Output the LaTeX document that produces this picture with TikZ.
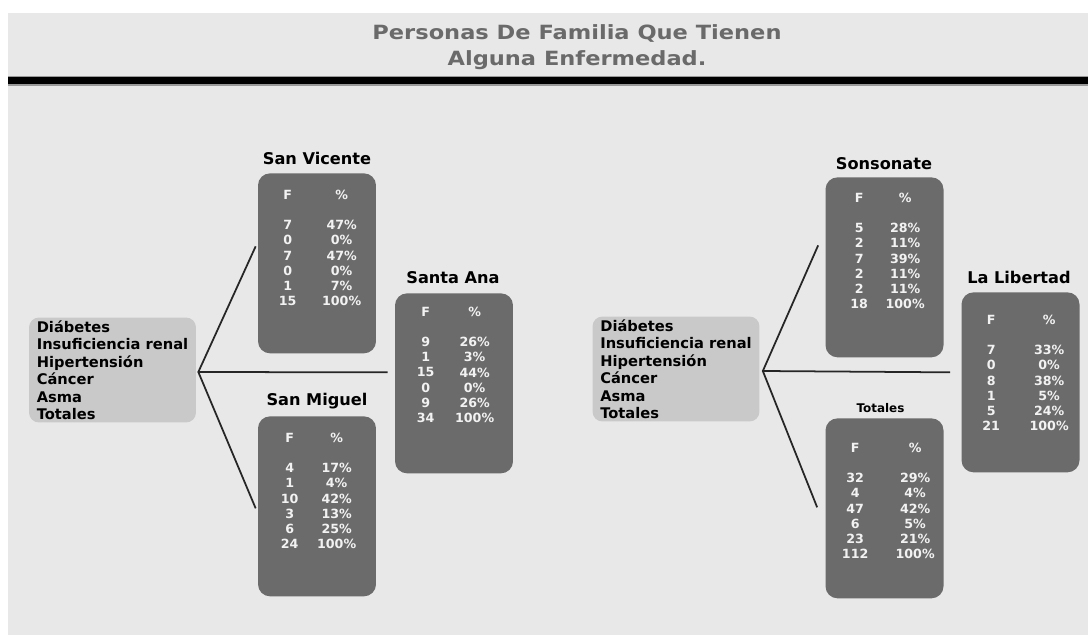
\documentclass[tikz,border=0pt]{standalone}
\usepackage{fontspec}
\setmainfont{DejaVu Sans}
\newfontfamily\titlefont[FakeStretch=1.15]{DejaVu Sans}
\usepackage{tikz}
\usetikzlibrary{positioning,calc}

\definecolor{fondo}{HTML}{E8E8E8}
\definecolor{caja}{HTML}{6B6B6B}
\definecolor{lista}{HTML}{C9C9C9}
\definecolor{gristit}{HTML}{6A6A6A}

% contenido de una caja: nombre, fila F, columna F, columna %, datos
\newcommand{\tabla}[5]{%
  \node[dato] (#1-hf) at ($(#1.north west)+(#3,#2)$) {F};
  \node[dato] (#1-hp) at ($(#1.north west)+(#4,#2)$) {\%};
  \foreach \f/\p [count=\i] in {#5} {
    \node[dato] (#1-f\i) at ($(#1.north west)+(#3,#2+14.8+15.2*\i)$) {\f};
    \node[dato] (#1-p\i) at ($(#1.north west)+(#4,#2+14.8+15.2*\i)$) {\p\%};
  }%
}

\begin{document}
\begin{tikzpicture}[
  x=0.02cm,y=-0.02cm,
  titulo/.style={font=\titlefont\bfseries\fontsize{11.15}{13}\selectfont,
    text=gristit,inner sep=0,anchor=base},
  depto/.style={font=\bfseries\fontsize{9.2}{11}\selectfont,inner sep=0,
    anchor=base},
  cuadro/.style={rounded corners=0.24cm,fill=caja,anchor=north,
    minimum width=2.36cm,minimum height=3.6cm,inner sep=0},
  categorias/.style={rounded corners=0.2cm,fill=lista,align=left,
    minimum width=3.34cm,minimum height=2.1cm,inner sep=0,
    font=\bfseries\fontsize{8.35}{9.96}\selectfont},
  dato/.style={text=white!95!black,inner sep=0,
    font=\bfseries\fontsize{7.2}{8}\selectfont},
  rama/.style={draw=black!85,line width=1pt}
  ]

  \fill[white] (0,0) rectangle (1088,635);
  \useasboundingbox (0,0) rectangle (1088,635);
  \fill[fondo] (8,13) rectangle (1088,635);

  % encabezado
  \node[titulo] (tit1) at (577,40) {Personas De Familia Que Tienen};
  \node[titulo] (tit2) at (577,66) {Alguna Enfermedad.};
  \fill[black!40] (8,75.8) rectangle (1088,85.6);
  \fill[black] (8,77) rectangle (1088,84.5);

  % lado izquierdo
  \node[categorias] (catL) at (112.5,370)
    {Diábetes\\Insuficiencia renal\\Hipertensión\\Cáncer\\Asma\\Totales};
  \node[cuadro] (sv) at (317,173) {};
  \node[cuadro] (sa) at (454,293) {};
  \node[cuadro] (sm) at (317,416) {};
  \node[depto] (svt) at (317,164) {San Vicente};
  \node[depto] (sat) at (453,283) {Santa Ana};
  \node[depto] (smt) at (317,405) {San Miguel};

  \tabla{sv}{22}{30}{84}{7/47,0/0,7/47,0/0,1/7,15/100}
  \tabla{sa}{19}{31}{80}{9/26,1/3,15/44,0/0,9/26,34/100}
  \tabla{sm}{22}{32}{79}{4/17,1/4,10/42,3/13,6/25,24/100}

  % lado derecho
  \node[categorias] (catR) at (676,369)
    {Diábetes\\Insuficiencia renal\\Hipertensión\\Cáncer\\Asma\\Totales};
  \node[cuadro] (so) at (884.5,177) {};
  \node[cuadro] (ll) at (1020.5,292) {};
  \node[cuadro] (to) at (884.5,418) {};
  \node[depto] (sot) at (884,169) {Sonsonate};
  \node[depto] (llt) at (1019,283) {La Libertad};
  \node[depto,font=\bfseries\fontsize{6.8}{8}\selectfont] (tot)
    at (880.5,412.5) {Totales};

  \tabla{so}{21}{34}{80}{5/28,2/11,7/39,2/11,2/11,18/100}
  \tabla{ll}{28}{30}{88}{7/33,0/0,8/38,1/5,5/24,21/100}
  \tabla{to}{30}{30}{90}{32/29,4/4,47/42,6/5,23/21,112/100}

  % ramas
  \coordinate (hubL) at ($(catL.east)+(2,2)$);
  \coordinate (svin) at ($(sv.west)+(-2,-17)$);
  \coordinate (sain) at ($(sa.west)+(-7,-11)$);
  \coordinate (smin) at ($(sm.west)+(-2,2)$);
  \coordinate (hubR) at ($(catR.east)+(3,2)$);
  \coordinate (soin) at ($(so.west)+(-7,-22)$);
  \coordinate (llin) at ($(ll.west)+(-11,-10)$);
  \coordinate (toin) at ($(to.west)+(-8,-1)$);

  \draw[rama] (svin) -- (hubL) -- (smin);
  \draw[rama] (hubL) -- (sain);
  \draw[rama] (soin) -- (hubR) -- (toin);
  \draw[rama] (hubR) -- (llin);
\end{tikzpicture}
\end{document}
